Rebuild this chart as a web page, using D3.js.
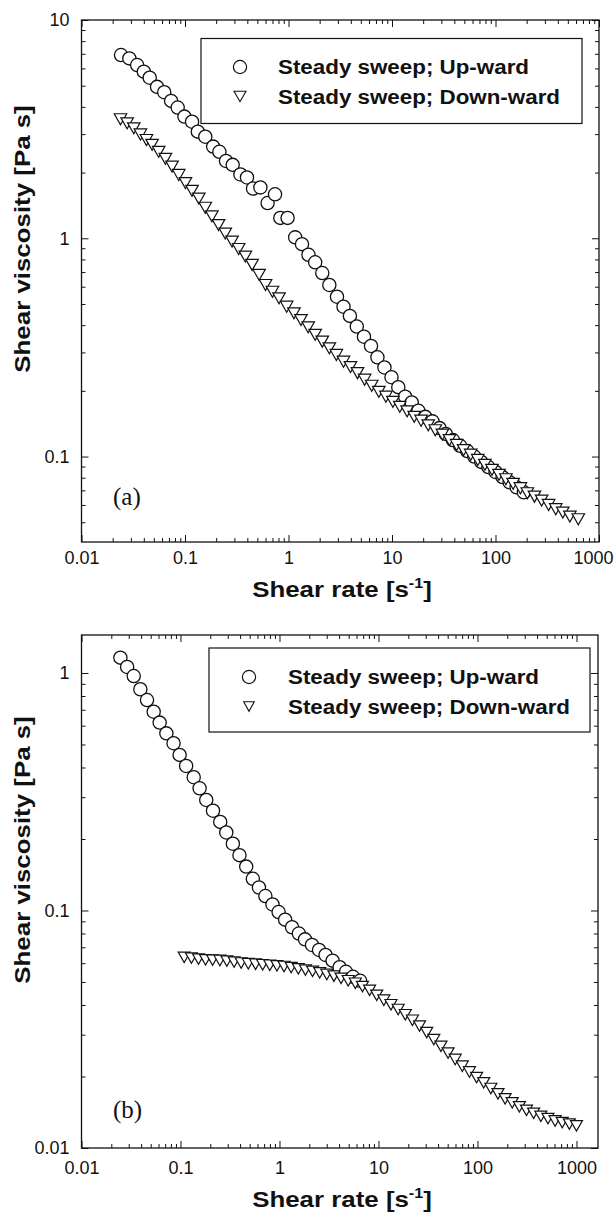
<!DOCTYPE html>
<html>
<head>
<meta charset="utf-8">
<script src="https://cdn.jsdelivr.net/npm/d3@7"></script>
<style>
  html, body { margin: 0; padding: 0; background: #fff; }
  svg { display: block; }
</style>
</head>
<body>
<svg id="fig" width="615" height="1224"></svg>
<script>
// ---- data: shear rate [1/s] and shear viscosity [Pa s] ----
const seriesNames = ["Steady sweep; Up-ward", "Steady sweep; Down-ward"];

// panel (a)
const upRateA = [0.0241,0.029,0.0345,0.040,0.0456,0.0537,0.063,0.0734,0.085,0.0987,0.117,0.133,0.157,0.187,0.215,0.249,0.289,0.343,0.397,0.454,0.535,0.628,0.741,0.834,0.98,1.16,1.35,1.56,1.81,2.12,2.48,2.94,3.40,3.92,4.57,5.36,6.27,7.23,8.45,9.89,11.5,13.4,15.5,18.0,21.0,24.6,28.8,33.1,38.8,45.5,53.3,62.4,72.9,85.3,100,117,137,160,188];
const upViscA = [6.91,6.67,6.22,5.80,5.44,4.94,4.67,4.26,3.97,3.61,3.42,3.08,2.92,2.63,2.49,2.26,2.17,1.96,1.90,1.69,1.71,1.45,1.59,1.24,1.24,1.01,0.94,0.84,0.776,0.693,0.611,0.540,0.486,0.441,0.394,0.354,0.321,0.285,0.256,0.231,0.208,0.188,0.177,0.162,0.152,0.145,0.135,0.127,0.119,0.112,0.106,0.100,0.0945,0.0895,0.085,0.0805,0.0762,0.0723,0.0686];
const downRateA = [0.0238,0.0276,0.032,0.0371,0.0424,0.0481,0.0557,0.0647,0.075,0.087,0.101,0.117,0.136,0.157,0.182,0.211,0.245,0.285,0.330,0.383,0.445,0.52,0.60,0.70,0.81,0.96,1.13,1.32,1.55,1.81,2.12,2.48,2.90,3.40,3.97,4.64,5.44,6.37,7.46,8.73,10.2,11.9,14.0,16.4,19.1,22.4,26.2,30.7,35.9,42.1,49.2,57.6,67.4,79,92.5,108,126,148,174,203,238,279,326,382,447,523,631];
const downViscA = [3.51,3.36,3.19,2.99,2.82,2.68,2.49,2.31,2.13,1.95,1.79,1.65,1.52,1.38,1.26,1.15,1.05,0.965,0.893,0.824,0.755,0.68,0.611,0.569,0.531,0.486,0.453,0.422,0.391,0.361,0.336,0.313,0.292,0.272,0.257,0.241,0.225,0.211,0.198,0.188,0.178,0.169,0.161,0.152,0.146,0.139,0.132,0.126,0.119,0.113,0.107,0.102,0.0965,0.0916,0.0869,0.0824,0.0787,0.075,0.0716,0.0679,0.0655,0.0628,0.060,0.0574,0.0554,0.0531,0.0516];

// panel (b)
const upRateB = [0.0247,0.0289,0.0337,0.0393,0.0459,0.0536,0.0616,0.072,0.0851,0.098,0.114,0.136,0.156,0.182,0.213,0.252,0.290,0.338,0.394,0.461,0.538,0.62,0.72,0.85,0.98,1.14,1.34,1.57,1.81,2.13,2.51,2.92,3.44,4.05,4.69,5.53,6.52];
const upViscB = [1.16,1.06,0.971,0.854,0.769,0.687,0.618,0.557,0.506,0.452,0.406,0.364,0.327,0.292,0.263,0.236,0.213,0.191,0.171,0.153,0.136,0.125,0.115,0.106,0.0985,0.0915,0.085,0.080,0.0756,0.0716,0.0682,0.065,0.0615,0.0577,0.0552,0.0526,0.0506];
const downRateB = [0.109,0.129,0.152,0.179,0.211,0.250,0.294,0.348,0.410,0.484,0.573,0.676,0.798,0.942,1.112,1.312,1.549,1.828,2.158,2.547,3.006,3.548,4.188,4.943,5.834,6.886,8.128,9.594,11.32,13.37,15.80,18.66,22.03,26.00,30.69,36.22,42.75,50.46,59.56,70.30,82.98,97.94,115.6,136.5,161.1,190.1,224.4,264.9,312.6,369.0,436.5,515.2,608.1,717.8,847.2,1000];
const downViscB = [0.0635,0.063,0.0624,0.062,0.0618,0.0616,0.0612,0.0606,0.0601,0.0597,0.0594,0.0591,0.0588,0.0585,0.0581,0.0575,0.0568,0.0561,0.0554,0.0546,0.0538,0.0529,0.0518,0.0506,0.0494,0.0478,0.0461,0.0439,0.0419,0.0401,0.0383,0.0364,0.0345,0.0326,0.0306,0.0286,0.0268,0.0251,0.0236,0.0221,0.0209,0.0198,0.0188,0.0178,0.0169,0.0161,0.0155,0.0149,0.0144,0.0140,0.0136,0.0133,0.0130,0.0128,0.0126,0.0124];

// tick labels
const xTickValues = [0.01, 0.1, 1, 10, 100, 1000];
const xTickLabels = ["0.01", "0.1", "1", "10", "100", "1000"];
const yTickValuesA = [0.1, 1, 10];
const yTickLabelsA = ["0.1", "1", "10"];
const yTickValuesB = [0.01, 0.1, 1];
const yTickLabelsB = ["0.01", "0.1", "1"];

// ---- drawing ----
const SANS = "'Liberation Sans', Arial, Helvetica, sans-serif";
const SERIF = "'Liberation Serif', 'Times New Roman', serif";
const svg = d3.select("#fig");

const triPath = (w, h) => `M${-w / 2},${-h / 2}L${w / 2},${-h / 2}L0,${h / 2}Z`;

function drawPanel(cfg) {
  const g = svg.append("g");
  const x = d3.scaleLog().domain(cfg.xDomain).range([cfg.left, cfg.right]);
  const y = d3.scaleLog().domain(cfg.yDomain).range([cfg.bottom, cfg.top]);

  const isDecade = v => Math.abs(Math.log10(v) - Math.round(Math.log10(v))) < 1e-6;
  const xMinor = x.ticks().filter(v => !isDecade(v));
  const yMinor = y.ticks().filter(v => !isDecade(v));

  const styleAxis = sel => {
    sel.select(".domain").remove();
    sel.selectAll(".tick line").attr("stroke", "#111").attr("stroke-width", 1);
    sel.selectAll("text").attr("font-family", SANS).attr("font-size", 18).attr("fill", "#111");
  };

  // bottom
  const bottomAxis = g.append("g").attr("transform", `translate(0,${cfg.bottom})`)
    .call(d3.axisBottom(x).tickValues(xTickValues).tickFormat((d, i) => xTickLabels[i]).tickSize(-7).tickPadding(cfg.xPad))
    .call(styleAxis);
  // keep the last label inside the page edge
  bottomAxis.selectAll(".tick text").filter(d => d === 1000).attr("dx", cfg.lastDx);
  g.append("g").attr("transform", `translate(0,${cfg.bottom})`)
    .call(d3.axisBottom(x).tickValues(xMinor).tickFormat("").tickSize(-4)).call(styleAxis);
  // top
  g.append("g").attr("transform", `translate(0,${cfg.top})`)
    .call(d3.axisTop(x).tickValues(xTickValues).tickFormat("").tickSize(-7)).call(styleAxis);
  g.append("g").attr("transform", `translate(0,${cfg.top})`)
    .call(d3.axisTop(x).tickValues(xMinor).tickFormat("").tickSize(-4)).call(styleAxis);
  // left
  g.append("g").attr("transform", `translate(${cfg.left},0)`)
    .call(d3.axisLeft(y).tickValues(cfg.yTicks).tickFormat((d, i) => cfg.yLabels[i]).tickSize(-7).tickPadding(12))
    .call(styleAxis);
  g.append("g").attr("transform", `translate(${cfg.left},0)`)
    .call(d3.axisLeft(y).tickValues(yMinor).tickFormat("").tickSize(-4)).call(styleAxis);
  // right
  g.append("g").attr("transform", `translate(${cfg.right},0)`)
    .call(d3.axisRight(y).tickValues(cfg.yTicks).tickFormat("").tickSize(-7)).call(styleAxis);
  g.append("g").attr("transform", `translate(${cfg.right},0)`)
    .call(d3.axisRight(y).tickValues(yMinor).tickFormat("").tickSize(-4)).call(styleAxis);

  // frame
  g.append("rect")
    .attr("x", cfg.left).attr("y", cfg.top)
    .attr("width", cfg.right - cfg.left).attr("height", cfg.bottom - cfg.top)
    .attr("fill", "none").attr("stroke", "#111").attr("stroke-width", 1.3);

  // markers: up-ward circles, then down-ward triangles
  g.append("g").selectAll("circle")
    .data(d3.zip(cfg.upRate, cfg.upVisc))
    .join("circle")
    .attr("cx", d => x(d[0])).attr("cy", d => y(d[1]))
    .attr("r", cfg.r)
    .attr("fill", "#fff").attr("stroke", "#111").attr("stroke-width", 1.3);

  g.append("g").selectAll("path")
    .data(d3.zip(cfg.downRate, cfg.downVisc))
    .join("path")
    .attr("d", triPath(cfg.triW, cfg.triH))
    .attr("transform", d => `translate(${x(d[0])},${y(d[1])})`)
    .attr("fill", "#fff").attr("stroke", "#111").attr("stroke-width", 1.2)
    .attr("stroke-linejoin", "miter");

  // legend
  const L = cfg.legend;
  const lg = g.append("g");
  lg.append("rect").attr("x", L.x).attr("y", L.y).attr("width", L.w).attr("height", L.h)
    .attr("fill", "#fff").attr("stroke", "#111").attr("stroke-width", 1.2);
  lg.append("circle").attr("cx", L.symX).attr("cy", L.row1).attr("r", cfg.r)
    .attr("fill", "#fff").attr("stroke", "#111").attr("stroke-width", 1.2);
  lg.append("path").attr("d", triPath(L.triW, L.triH))
    .attr("transform", `translate(${L.symX},${L.row2})`)
    .attr("fill", "#fff").attr("stroke", "#111").attr("stroke-width", 1.1);
  const rows = [L.row1, L.row2];
  seriesNames.forEach((name, i) => {
    lg.append("text")
      .attr("x", L.textX).attr("y", rows[i] + 7)
      .attr("font-family", SANS).attr("font-weight", "bold").attr("font-size", 20)
      .attr("textLength", i === 0 ? 251 : 282).attr("lengthAdjust", "spacingAndGlyphs")
      .attr("fill", "#111")
      .text(name);
  });

  // axis titles
  const xt = g.append("text")
    .attr("transform", `translate(${cfg.xTitle[0]},${cfg.xTitle[1]}) scale(1.15,1)`)
    .attr("text-anchor", "middle")
    .attr("font-family", SANS).attr("font-weight", "bold").attr("font-size", 22.5).attr("fill", "#111");
  xt.append("tspan").text("Shear rate [s");
  xt.append("tspan").attr("font-size", 14).attr("dy", -9).text("-1");
  xt.append("tspan").attr("dy", 9).text("]");

  g.append("text")
    .attr("transform", `translate(${cfg.yTitle[0]},${cfg.yTitle[1]}) rotate(-90) scale(1.15,1)`)
    .attr("text-anchor", "middle")
    .attr("font-family", SANS).attr("font-weight", "bold").attr("font-size", 22.5).attr("fill", "#111")
    .text("Shear viscosity [Pa s]");

  // panel tag
  g.append("text")
    .attr("x", cfg.tag[0]).attr("y", cfg.tag[1])
    .attr("font-family", SERIF).attr("font-size", 25).attr("fill", "#111")
    .text(cfg.tagText);
}

drawPanel({
  xDomain: [0.01, 1000], yDomain: [0.0406, 10],
  left: 81.5, right: 599, top: 20, bottom: 542,
  xPad: 9, lastDx: -6, yTicks: yTickValuesA, yLabels: yTickLabelsA,
  upRate: upRateA, upVisc: upViscA, downRate: downRateA, downVisc: downViscA,
  r: 6.6, triW: 12.5, triH: 11,
  legend: { x: 201, y: 38.5, w: 381, h: 85, symX: 240, row1: 67, row2: 96.5, textX: 278, triW: 12, triH: 10.5 },
  xTitle: [342, 597], yTitle: [30, 239],
  tag: [113, 505], tagText: "(a)"
});

drawPanel({
  xDomain: [0.01, 1650], yDomain: [0.01, 1.445],
  left: 81.5, right: 598, top: 635, bottom: 1148,
  xPad: 13, lastDx: 0, yTicks: yTickValuesB, yLabels: yTickLabelsB,
  upRate: upRateB, upVisc: upViscB, downRate: downRateB, downVisc: downViscB,
  r: 6.6, triW: 12, triH: 10.5,
  legend: { x: 209, y: 648, w: 381, h: 84, symX: 249, row1: 677, row2: 706.5, textX: 288, triW: 10.5, triH: 9.5 },
  xTitle: [342, 1207], yTitle: [30, 850],
  tag: [113, 1118], tagText: "(b)"
});
</script>
</body>
</html>
